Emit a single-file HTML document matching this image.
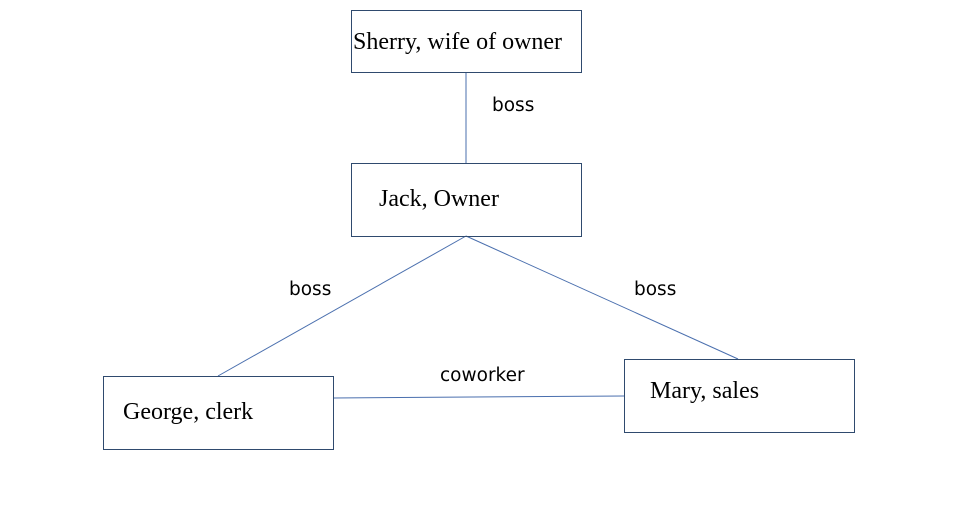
<!DOCTYPE html>
<html><head><style>
body{margin:0;width:961px;height:521px;background:#fff;position:relative;overflow:hidden}
.b{position:absolute;border:1px solid #2f4a6e;box-sizing:border-box;font-family:"Liberation Serif",serif;font-size:24px;color:#000;white-space:nowrap}
.b span{position:absolute}
.l{position:absolute;font-family:"DejaVu Sans","Liberation Sans",sans-serif;font-size:18.5px;color:#000}
</style></head><body>
<svg width="961" height="521" style="position:absolute;left:0;top:0">
<g stroke="#4a6fae" stroke-width="1" fill="none">
<line x1="466" y1="72" x2="466" y2="163"/>
<line x1="466" y1="236" x2="218" y2="376"/>
<line x1="466" y1="236" x2="738" y2="359"/>
<line x1="333" y1="398" x2="624" y2="396"/>
</g></svg>
<div class="b" style="left:351px;top:10px;width:231px;height:63px"><span style="left:1px;top:18px">Sherry, wife of owner</span></div>
<div class="b" style="left:351px;top:163px;width:231px;height:74px"><span style="left:27px;top:22px">Jack, Owner</span></div>
<div class="b" style="left:103px;top:376px;width:231px;height:74px"><span style="left:19px;top:22px">George, clerk</span></div>
<div class="b" style="left:624px;top:359px;width:231px;height:74px"><span style="left:25px;top:18px">Mary, sales</span></div>
<div class="l" style="left:492px;top:95px">boss</div>
<div class="l" style="left:289px;top:279px">boss</div>
<div class="l" style="left:634px;top:279px">boss</div>
<div class="l" style="left:440px;top:365px">coworker</div>
</body></html>
